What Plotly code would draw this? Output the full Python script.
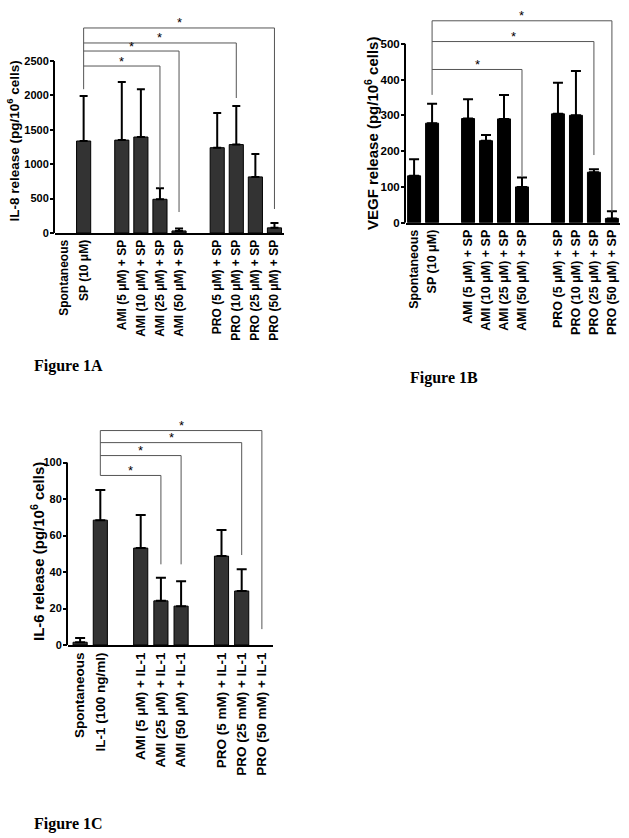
import plotly.graph_objects as go

# ---------------- Figure 1A : IL-8 ----------------
a_groups = [["Spontaneous", "SP (10 μM)"],
            ["AMI (5 μM) + SP", "AMI (10 μM) + SP", "AMI (25 μM) + SP", "AMI (50 μM) + SP"],
            ["PRO (5 μM) + SP", "PRO (10 μM) + SP", "PRO (25 μM) + SP", "PRO (50 μM) + SP"]]
a_values = [0, 1337, 1350, 1395, 490, 30, 1240, 1285, 815, 75]
a_err_top = [0, 1990, 2195, 2090, 650, 65, 1745, 1845, 1150, 145]
a_ticks = [0, 500, 1000, 1500, 2000, 2500]
a_ytitle = "IL-8 release (pg/10<sup>6</sup> cells)"
a_sig_ref = 1
a_sig_target = [4, 5, 7, 9]
a_sig_level = [2427, 2645, 2762, 2980]
a_sig_drop = [654, 305, 1962, 349]
a_sig_ref_drop = 2090

# ---------------- Figure 1B : VEGF ----------------
b_groups = [["Spontaneous", "SP (10 μM)"],
            ["AMI (5 μM) + SP", "AMI (10 μM) + SP", "AMI (25 μM) + SP", "AMI (50 μM) + SP"],
            ["PRO (5 μM) + SP", "PRO (10 μM) + SP", "PRO (25 μM) + SP", "PRO (50 μM) + SP"]]
b_values = [131, 278, 291, 229, 290, 100, 304, 300, 141, 12]
b_err_top = [177, 332, 345, 245, 357, 126, 391, 424, 149, 32]
b_ticks = [0, 100, 200, 300, 400, 500]
b_ytitle = "VEGF release (pg/10<sup>6</sup> cells)"
b_sig_ref = 1
b_sig_target = [5, 8, 9]
b_sig_level = [428, 506, 564]
b_sig_drop = [130, 189, 30]
b_sig_ref_drop = 357

# ---------------- Figure 1C : IL-6 ----------------
c_groups = [["Spontaneous", "IL-1 (100 ng/ml)"],
            ["AMI (5 μM) + IL-1", "AMI (25 μM) + IL-1", "AMI (50 μM) + IL-1"],
            ["PRO (5 mM) + IL-1", "PRO (25 mM) + IL-1", "PRO (50 mM) + IL-1"]]
c_values = [1.5, 68.4, 53.1, 24.2, 21.3, 48.7, 29.6, 0]
c_err_top = [3.8, 84.9, 71.3, 36.9, 34.9, 63.0, 41.5, 0]
c_ticks = [0, 20, 40, 60, 80, 100]
c_ytitle = "IL-6 release (pg/10<sup>6</sup> cells)"
c_sig_ref = 1
c_sig_target = [3, 4, 6, 7]
c_sig_level = [92.9, 103.8, 110.9, 117.5]
c_sig_drop = [44.2, 44.2, 49.3, 8.7]
c_sig_ref_drop = 92.9

fig_labels = ["Figure 1A", "Figure 1B", "Figure 1C"]

W, H = 629, 838
FONT = "Liberation Sans, Arial, sans-serif"

fig = go.Figure()


def px_x(p):
    return p / W


def px_y(p):
    return 1 - p / H


def positions(groups):
    xs, labels = [], []
    pos = 0
    for g in groups:
        for lab in g:
            xs.append(pos)
            labels.append(lab)
            pos += 1
        pos += 1
    return xs, labels


def add_panel(n, groups, values, err_top, ticks, ytitle, sig_ref, sig_target,
              sig_level, sig_drop, sig_ref_drop, fill, xdom_px, y0_px, ytop_val_px,
              domtop_px, xrange, bar_width, cap, tickfont, labfont, titlefont,
              title_pos):
    xs, labels = positions(groups)
    sfx = "" if n == 1 else str(n)
    xa, ya = "x" + sfx, "y" + sfx
    top_tick = ticks[-1]
    ymax = top_tick * (y0_px - domtop_px) / (y0_px - ytop_val_px)
    # bars with no measurable value are not drawn
    bar_vals = [v if e > 0 else None for v, e in zip(values, err_top)]
    err_up = [(e - v) if e > 0 else None for e, v in zip(err_top, values)]
    fig.add_trace(go.Bar(
        x=xs, y=bar_vals, xaxis=xa, yaxis=ya, width=bar_width,
        marker=dict(color=fill, line=dict(color="black", width=1)),
        error_y=dict(type="data", symmetric=False,
                     array=err_up,
                     arrayminus=[0] * len(values),
                     color="black", thickness=2, width=cap),
        showlegend=False, hoverinfo="skip"))
    fig.update_layout(**{
        "xaxis" + sfx: dict(domain=[px_x(xdom_px[0]), px_x(xdom_px[1])],
                            anchor=ya, range=xrange, tickvals=xs, ticktext=labels,
                            tickangle=-90, showgrid=False, zeroline=False,
                            showline=True, linecolor="black", linewidth=2,
                            ticks="", automargin=False, fixedrange=True,
                            tickfont=dict(family=FONT, size=labfont,
                                          color="black", weight="bold")),
        "yaxis" + sfx: dict(domain=[px_y(y0_px), px_y(domtop_px)], anchor=xa,
                            range=[0, ymax], tickvals=ticks,
                            ticktext=[str(t) for t in ticks],
                            showgrid=False, zeroline=False, showline=False,
                            ticks="outside", ticklen=4, tickwidth=2,
                            tickcolor="black", automargin=False, fixedrange=True,
                            ticklabelstandoff=-1,
                            tickfont=dict(family=FONT, size=tickfont,
                                          color="black", weight="bold")),
    })
    # y axis line (ends at top tick)
    fig.add_shape(type="line", xref="paper", yref=ya,
                  x0=px_x(xdom_px[0]) - 1 / W, x1=px_x(xdom_px[0]) - 1 / W,
                  y0=0, y1=top_tick, line=dict(color="black", width=2))
    # significance brackets
    lc = "#555555"
    rx = xs[sig_ref]
    fig.add_shape(type="line", xref=xa, yref=ya, x0=rx, x1=rx,
                  y0=sig_ref_drop, y1=max(sig_level),
                  line=dict(color=lc, width=1))
    for t, lev, drop in zip(sig_target, sig_level, sig_drop):
        tx = xs[t]
        fig.add_shape(type="line", xref=xa, yref=ya, x0=rx, x1=tx,
                      y0=lev, y1=lev, line=dict(color=lc, width=1))
        fig.add_shape(type="line", xref=xa, yref=ya, x0=tx, x1=tx,
                      y0=drop, y1=lev, line=dict(color=lc, width=1))
        fig.add_annotation(x=(rx + tx) / 2, y=lev, xref=xa, yref=ya, text="*",
                           showarrow=False, yanchor="middle", yshift=5,
                           font=dict(family=FONT, size=13, color="black"))
    fig.add_annotation(x=px_x(title_pos[0]), y=px_y(title_pos[1]), xref="paper",
                       yref="paper", text=ytitle, textangle=-90, showarrow=False,
                       xanchor="center", yanchor="middle",
                       font=dict(family=FONT, size=titlefont, color="black",
                                 weight="bold"))


add_panel(1, a_groups, a_values, a_err_top, a_ticks, a_ytitle, a_sig_ref,
          a_sig_target, a_sig_level, a_sig_drop, a_sig_ref_drop, "#333333",
          (55, 284), 233, 61, 12, [-0.5, 11.5], 0.74, 4, 11, 12, 13.5, (14, 141.5))
add_panel(2, b_groups, b_values, b_err_top, b_ticks, b_ytitle, b_sig_ref,
          b_sig_target, b_sig_level, b_sig_drop, b_sig_ref_drop, "#000000",
          (406, 620), 222.7, 43.7, 3, [-0.45, 11.45], 0.72, 5, 11.5, 12.5, 15, (371, 134))
add_panel(3, c_groups, c_values, c_err_top, c_ticks, c_ytitle, c_sig_ref,
          c_sig_target, c_sig_level, c_sig_drop, c_sig_ref_drop, "#333333",
          (68, 273), 645, 462.5, 412, [-0.6, 9.55], 0.7, 5, 11, 13.5, 15, (37, 552))

for lab, (x, y) in zip(fig_labels, [(32, 366), (408, 378), (32, 824)]):
    fig.add_annotation(x=px_x(x), y=px_y(y), xref="paper", yref="paper", text=lab,
                       showarrow=False, xanchor="left", yanchor="middle",
                       font=dict(family="Liberation Serif, Times New Roman, serif",
                                 size=16, color="black", weight="bold"))

fig.update_layout(width=W, height=H, margin=dict(l=0, r=0, t=0, b=0, pad=0),
                  paper_bgcolor="white", plot_bgcolor="white", bargap=0,
                  hovermode=False)

fig.write_html("out.html", config={"displayModeBar": False, "staticPlot": True},
               post_script="document.body.style.margin='0';"
                           "document.body.style.overflow='hidden';")
